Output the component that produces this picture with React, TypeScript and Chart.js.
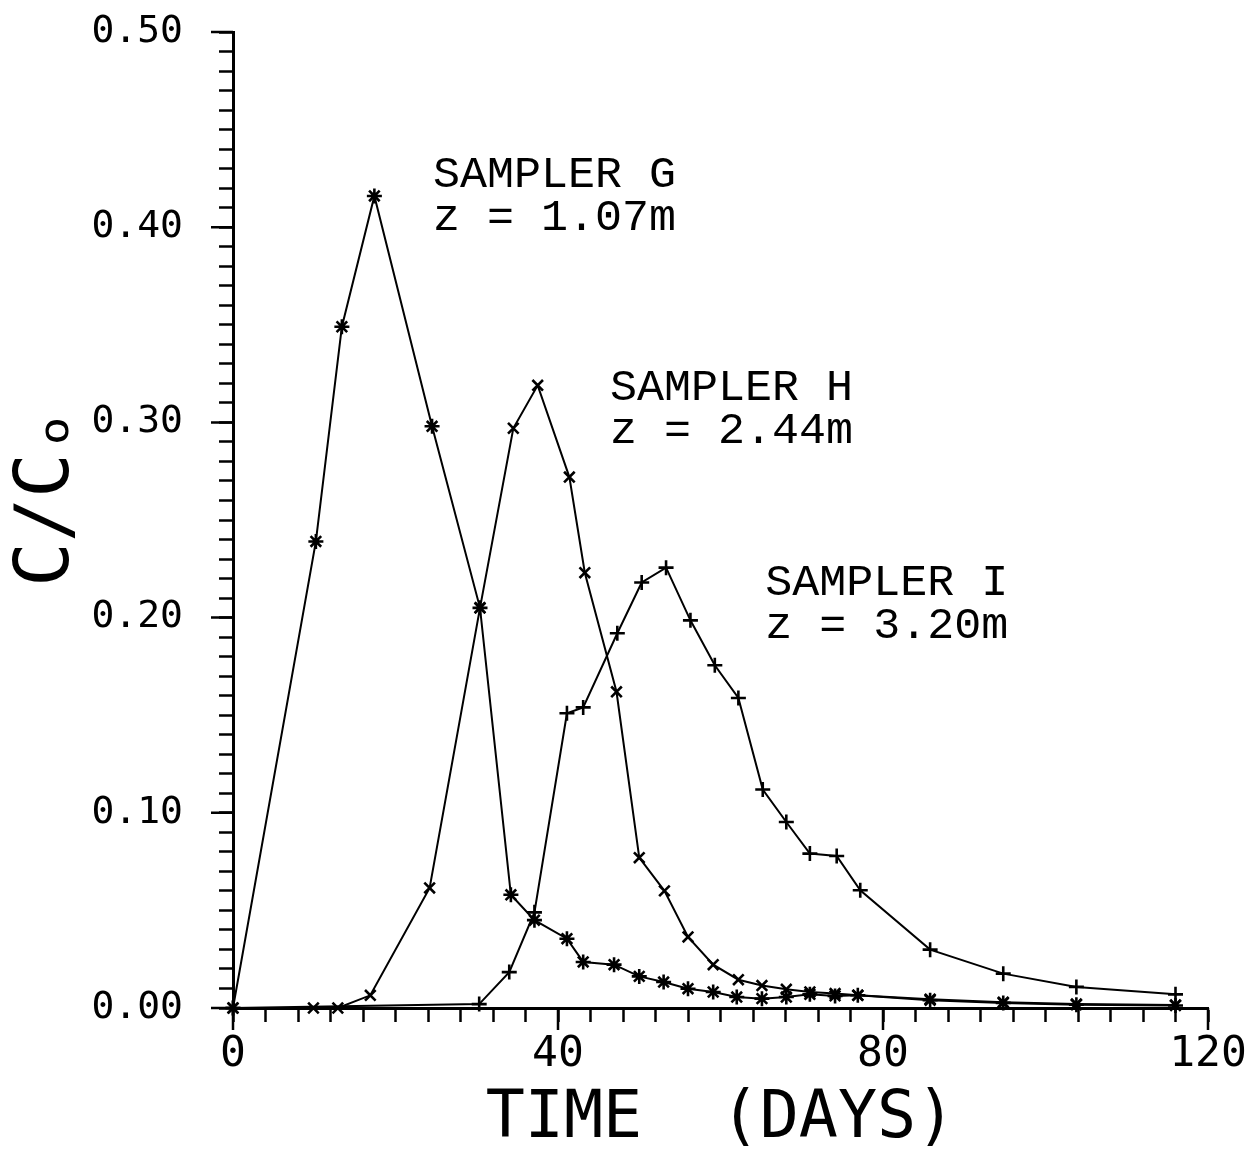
import React, { useEffect, useRef } from "react";
import { Chart, registerables } from "chart.js";

Chart.register(...registerables);

// ---- data (days, C/Co) ----
const gDays = [0, 10.2, 13.4, 17.4, 24.5, 30.4, 34.2, 37.1, 41.1, 43.1, 46.9, 50.0, 53.0, 56.0, 59.1, 62.0, 65.1, 68.1, 71.0, 74.1, 76.9, 85.8, 94.8, 103.8, 116.0];
const gValues = [0, 0.239, 0.349, 0.416, 0.298, 0.205, 0.058, 0.045, 0.0355, 0.0236, 0.0222, 0.0162, 0.0133, 0.0099, 0.0082, 0.0056, 0.0048, 0.0056, 0.007, 0.0062, 0.0065, 0.004, 0.0026, 0.0017, 0.0013];

const hDays = [0, 9.9, 12.9, 16.9, 24.2, 30.4, 34.5, 37.5, 41.4, 43.3, 47.2, 50.0, 53.1, 56.0, 59.1, 62.2, 65.1, 68.1, 71.0, 74.1, 76.9, 85.8, 94.8, 103.8, 116.0];
const hValues = [0, 0, 0, 0.0065, 0.0615, 0.205, 0.297, 0.319, 0.272, 0.223, 0.162, 0.077, 0.06, 0.0364, 0.0222, 0.0145, 0.0115, 0.0096, 0.0082, 0.0074, 0.0065, 0.0045, 0.003, 0.002, 0.0015];

const iDays = [0, 30.3, 34.0, 37.1, 41.1, 43.1, 47.3, 50.3, 53.3, 56.3, 59.3, 62.2, 65.2, 68.1, 71.0, 74.3, 77.2, 85.8, 94.8, 103.8, 116.0];
const iValues = [0, 0.002, 0.0184, 0.049, 0.151, 0.154, 0.192, 0.218, 0.2256, 0.1986, 0.1756, 0.1588, 0.1119, 0.0953, 0.0791, 0.0779, 0.0603, 0.0299, 0.0176, 0.0108, 0.007];

const xMin = 0;
const xMax = 120;
const xMinorStep = 4;
const xMajorStep = 40;
const yMin = 0;
const yMax = 0.5;
const yMinorStep = 0.01;
const yMajorStep = 0.1;

const xTitle = "TIME  (DAYS)";
const yTitle = " C/C\u2092";

const samplerNames = ["SAMPLER G", "SAMPLER H", "SAMPLER I"];
const samplerDepths = ["z = 1.07m", "z = 2.44m", "z = 3.20m"];
// label anchors in data units (day, C/Co of first baseline)
const labelDays = [24.6, 46.4, 65.5];
const labelValues = [0.4205, 0.3113, 0.2114];

const toPoints = (xs: number[], ys: number[]) => xs.map((x, i) => ({ x, y: ys[i] }));

const isMajor = (v: number, minor: number, major: number) => {
  const k = Math.round(v / minor);
  const m = Math.round(major / minor);
  return k % m === 0;
};

const majorTickPlugin = {
  id: "majorTicks",
  afterDraw(chart: any) {
    const { ctx, chartArea, scales } = chart;
    const xs = scales.x;
    const ys = scales.y;
    ctx.save();
    ctx.strokeStyle = "#000";
    ctx.lineWidth = 2.5;
    ctx.beginPath();
    for (let v = xMin; v <= xMax + 1e-9; v += xMajorStep) {
      const px = xs.getPixelForValue(v);
      ctx.moveTo(px, chartArea.bottom);
      ctx.lineTo(px, chartArea.bottom + 22);
    }
    for (let k = 0; k <= Math.round((yMax - yMin) / yMajorStep); k++) {
      const py = ys.getPixelForValue(yMin + k * yMajorStep);
      ctx.moveTo(chartArea.left, py);
      ctx.lineTo(chartArea.left - 22, py);
    }
    ctx.stroke();
    ctx.restore();
  },
};

const samplerLabelPlugin = {
  id: "samplerLabels",
  afterDraw(chart: any) {
    const { ctx, scales } = chart;
    ctx.save();
    ctx.fillStyle = "#000";
    ctx.font = '45px "Liberation Mono", "DejaVu Sans Mono", monospace';
    ctx.textAlign = "left";
    ctx.textBaseline = "alphabetic";
    samplerNames.forEach((name, i) => {
      const px = scales.x.getPixelForValue(labelDays[i]);
      const py = scales.y.getPixelForValue(labelValues[i]);
      ctx.fillText(name, px, py);
      ctx.fillText(samplerDepths[i], px, py + 43);
    });
    ctx.restore();
  },
};

export default function App() {
  const canvasRef = useRef<HTMLCanvasElement | null>(null);

  useEffect(() => {
    if (!canvasRef.current) return;
    const common = {
      borderColor: "#000",
      backgroundColor: "#000",
      pointBorderColor: "#000",
      pointBackgroundColor: "#000",
      borderWidth: 2,
      pointBorderWidth: 2.6,
      pointRadius: 7.5,
      showLine: true,
      fill: false,
      tension: 0,
      clip: false as any,
    };
    const chart = new Chart(canvasRef.current, {
      type: "line",
      data: {
        datasets: [
          { ...common, label: "SAMPLER G", data: toPoints(gDays, gValues), pointStyle: "star" },
          { ...common, label: "SAMPLER H", data: toPoints(hDays, hValues), pointStyle: "crossRot" },
          { ...common, label: "SAMPLER I", data: toPoints(iDays, iValues), pointStyle: "cross" },
        ],
      },
      options: {
        animation: false,
        responsive: false,
        maintainAspectRatio: false,
        devicePixelRatio: 1,
        layout: { padding: { top: 32, right: 44, left: 0, bottom: 0 } },
        plugins: { legend: { display: false }, tooltip: { enabled: false }, title: { display: false } },
        scales: {
          x: {
            type: "linear",
            min: xMin,
            max: xMax,
            afterFit: (s: any) => {
              s.height = 141;
              s.paddingLeft = 0;
              s.paddingRight = 0;
            },
            border: { display: true, color: "#000", width: 3 },
            grid: { display: true, drawOnChartArea: false, drawTicks: true, tickLength: 14, tickWidth: 2.5, tickColor: "#000" },
            ticks: {
              stepSize: xMinorStep,
              autoSkip: false,
              maxRotation: 0,
              padding: 7,
              color: "#000",
              font: { family: '"DejaVu Sans Mono", monospace', size: 43 },
              callback: (v: any) => (isMajor(Number(v), xMinorStep, xMajorStep) ? String(Math.round(Number(v))) : ""),
            },
            title: {
              display: true,
              text: xTitle,
              color: "#000",
              font: { family: '"DejaVu Sans Mono", monospace', size: 65, lineHeight: 0.8 },
              padding: { top: 0, bottom: 3 },
            },
          },
          y: {
            type: "linear",
            min: yMin,
            max: yMax,
            afterFit: (s: any) => {
              s.width = 233;
              s.paddingTop = 0;
              s.paddingBottom = 0;
            },
            border: { display: true, color: "#000", width: 3 },
            grid: { display: true, drawOnChartArea: false, drawTicks: true, tickLength: 14, tickWidth: 2.5, tickColor: "#000" },
            ticks: {
              stepSize: yMinorStep,
              autoSkip: false,
              maxTicksLimit: 100,
              padding: 36,
              color: "#000",
              font: { family: '"DejaVu Sans Mono", monospace', size: 38 },
              callback: (v: any) => (isMajor(Number(v), yMinorStep, yMajorStep) ? Number(v).toFixed(2) : ""),
            },
            title: {
              display: true,
              text: yTitle,
              color: "#000",
              font: { family: '"DejaVu Sans Mono", monospace', size: 74, lineHeight: 1 },
              padding: { top: 12, bottom: 0 },
            },
          },
        },
      },
      plugins: [majorTickPlugin, samplerLabelPlugin],
    });
    return () => chart.destroy();
  }, []);

  return (
    <div style={{ position: "absolute", left: 0, top: 0, width: 1252, height: 1149, background: "#fff" }}>
      <canvas ref={canvasRef} width={1252} height={1149} style={{ display: "block" }} />
    </div>
  );
}
